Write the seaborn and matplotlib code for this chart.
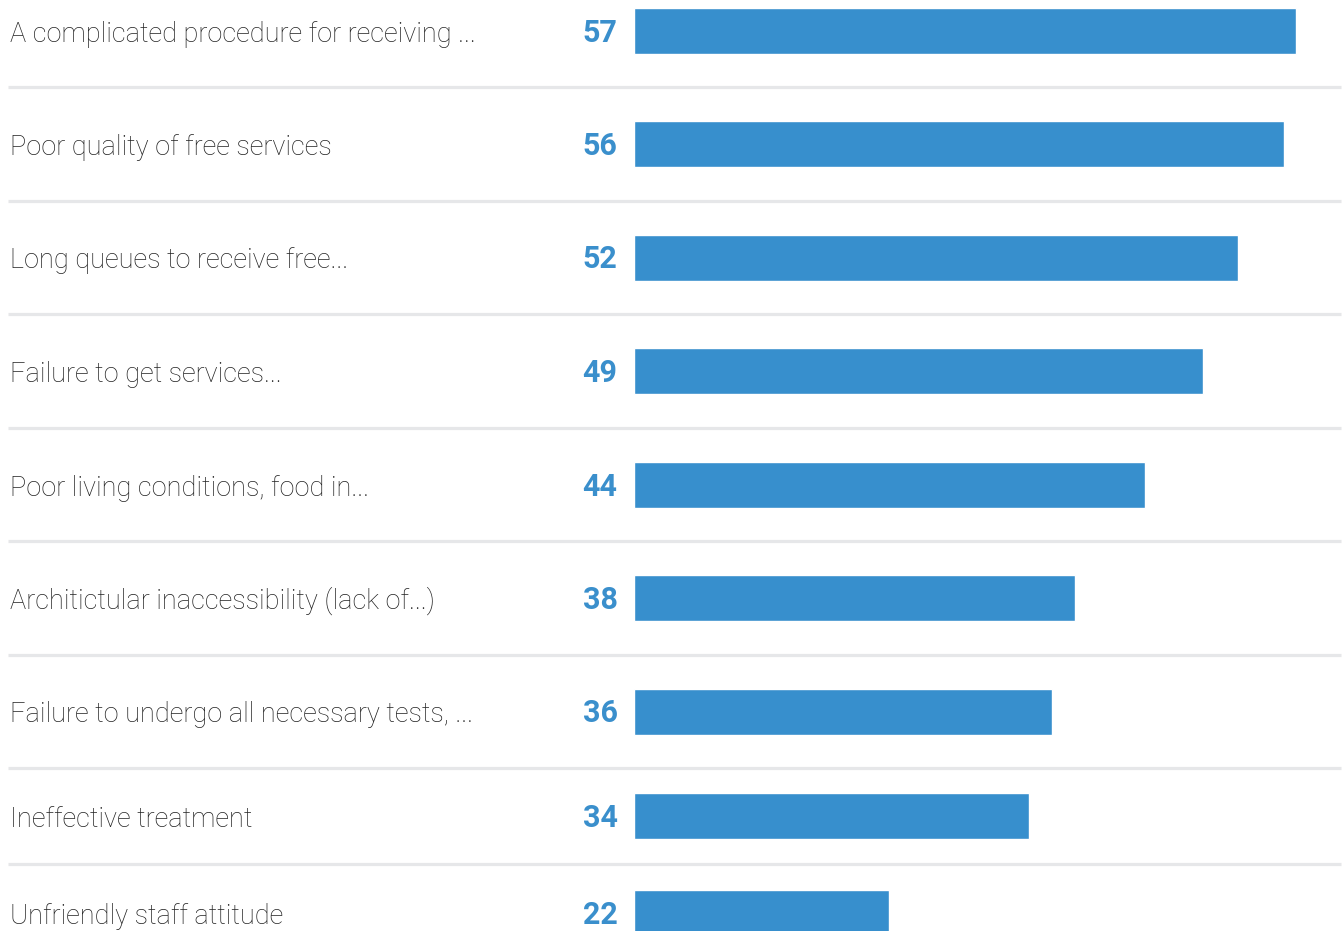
import matplotlib
matplotlib.use("Agg")
import matplotlib.pyplot as plt
import matplotlib.transforms as mtransforms
import seaborn as sns
import pandas as pd

# Survey answers and their shares
categories = [
    "A complicated procedure for receiving ...",
    "Poor quality of free services",
    "Long queues to receive free...",
    "Failure to get services...",
    "Poor living conditions, food in...",
    "Architictular inaccessibility (lack of...)",
    "Failure to undergo all necessary tests, ...",
    "Ineffective treatment",
    "Unfriendly staff attitude",
]
values = [57, 56, 52, 49, 44, 38, 36, 34, 22]

# Page layout (pixels): row boundaries, the last two rows are shorter
W, H = 1344, 931
row_edges = [-26, 87, 201, 314, 428, 541, 655, 768, 864, 962]
row_left, row_right = 8, 1341
bar_start = 633.5
px_per_unit = 11.62
bar_px = 46
baseline_drop = 11

BAR = "#378FCD"
NUM = "#3A8FCC"
TXT = "#222222"
SEP = "#E6E7E9"

sns.set_theme(style="white")
plt.rcParams["font.family"] = ["Roboto", "DejaVu Sans"]

fig = plt.figure(figsize=(W / 100, H / 100), dpi=100)
fig.patch.set_facecolor("white")

x_lo = -(bar_start - row_left) / px_per_unit
x_hi = (row_right - bar_start) / px_per_unit

for i, (cat, val) in enumerate(zip(categories, values)):
    top, bot = row_edges[i], row_edges[i + 1]
    h = bot - top
    ax = fig.add_axes([row_left / W, 1 - bot / H, (row_right - row_left) / W, h / H])
    df = pd.DataFrame({"category": [cat], "value": [val]})
    sns.barplot(data=df, x="value", y="category", color=BAR, saturation=1,
                width=0.8, orient="h", ax=ax)
    span = h * 0.8 / bar_px
    ax.set_ylim(span / 2, -span / 2)
    ax.set_xlim(x_lo, x_hi)
    ax.set_axis_off()
    ax.set_facecolor("none")

    # separator under every row except the last
    if i < len(categories) - 1:
        ax.axhline(span / 2, color=SEP, lw=2.3, solid_capstyle="butt", clip_on=False)

    # category label on the left, baseline a little below the bar centre
    lab_tr = mtransforms.blended_transform_factory(ax.transAxes, ax.transData)
    lab_tr = lab_tr + mtransforms.ScaledTranslation(0, -baseline_drop / 100, fig.dpi_scale_trans)
    ax.text((10.5 - row_left) / (row_right - row_left), 0, cat, transform=lab_tr,
            ha="left", va="baseline", fontsize=19.5, fontweight="light", color=TXT)
    # value label just left of the bar
    ax.annotate(f"{val}", xy=(0, 0), xytext=(-16, -baseline_drop), textcoords="offset pixels",
                ha="right", va="baseline", fontsize=22, fontweight="bold", color=NUM)

fig.savefig("out.png", dpi=100, facecolor="white")
